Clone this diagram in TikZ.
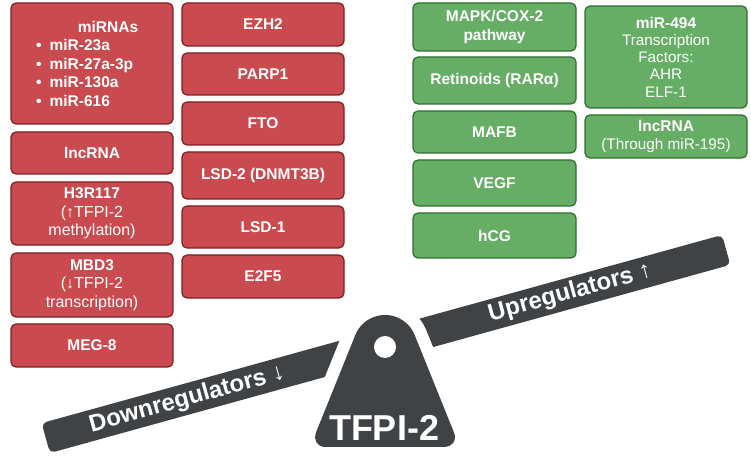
\documentclass[tikz,border=0pt]{standalone}
\usepackage{fontspec}
\setmainfont{Liberation Sans}
\definecolor{boxred}{HTML}{C94B4F}
\definecolor{redline}{HTML}{7E1D22}
\definecolor{boxgreen}{HTML}{66AE66}
\definecolor{greenline}{HTML}{2E6E30}
\definecolor{beamgray}{HTML}{404346}
\newcommand{\rg}[1]{{\fontsize{16}{19}\selectfont\mdseries #1}}
\newcommand{\rgs}[1]{{\fontsize{15.3}{17.2}\selectfont\mdseries #1}}
\tikzset{
  box/.style={rounded corners=5pt, line width=1.2pt, minimum width=162pt,
    inner sep=2pt, align=center, text=white,
    font=\fontsize{15.5}{18.5}\selectfont\bfseries},
  redbox/.style={box, fill=boxred, draw=redline},
  greenbox/.style={box, fill=boxgreen, draw=greenline},
  beam/.style={fill=beamgray, rounded corners=5pt, inner sep=0pt,
    minimum width=706pt, minimum height=31pt, rotate=15.46},
  beamtext/.style={text=white, rotate=15.46, inner sep=0pt,
    font=\fontsize{24}{28}\selectfont\bfseries},
  bigtext/.style={text=white, inner sep=0pt, font=\fontsize{36}{40}\selectfont\bfseries},
  intext/.style={text=white, inner sep=0pt, font=\fontsize{15.5}{18.7}\selectfont\bfseries}
}
\def\fulcrumpath{(315.7,28.75) -- (355.33,126.99) arc[start angle=158, end angle=22, radius=32]
  -- (454.27,28.75) arc[start angle=22, end angle=-90, radius=10]
  -- (325,15) arc[start angle=270, end angle=158, radius=10] -- cycle}
\begin{document}
\begin{tikzpicture}[x=1pt,y=1pt]
\useasboundingbox (0,0) rectangle (751,462);
% red column 1
\node[redbox, minimum height=121pt] (mirnas) at (92,398.5) {};
\node[intext] (mirhead) at (108,435) {miRNAs};
\node[intext, anchor=west, align=left] (mirlist) at (36,389)
  {•\hspace{8pt}miR-23a\\ •\hspace{8pt}miR-27a-3p\\ •\hspace{8pt}miR-130a\\ •\hspace{8pt}miR-616};
\node[redbox, minimum height=42pt] (lnc1) at (92,309) {lncRNA};
\node[redbox, minimum height=63pt] (h3r) at (92,248.5) {H3R117\\ \rg{(↑TFPI-2}\\ \rg{methylation)}};
\node[redbox, minimum height=64pt] (mbd3) at (92,177) {MBD3\\ \rg{(↓TFPI-2}\\ \rg{transcription)}};
\node[redbox, minimum height=43pt] (meg8) at (92,116.5) {MEG-8};
% red column 2
\node[redbox, minimum height=43pt] (ezh2) at (263,437.5) {EZH2};
\node[redbox, minimum height=42pt] (parp1) at (263,388) {PARP1};
\node[redbox, minimum height=43pt] (fto) at (263,338.5) {FTO};
\node[redbox, minimum height=47pt] (lsd2) at (263,286.5) {LSD-2 (DNMT3B)};
\node[redbox, minimum height=42pt] (lsd1) at (263,235) {LSD-1};
\node[redbox, minimum height=43pt] (e2f5) at (263,185.5) {E2F5};
% green column 1
\node[greenbox, minimum width=163pt, minimum height=48pt] (mapk) at (494.5,435) {MAPK/COX-2\\ pathway};
\node[greenbox, minimum width=163pt, minimum height=47pt] (retin) at (494.5,381.5) {Retinoids (RARα)};
\node[greenbox, minimum width=163pt, minimum height=42pt] (mafb) at (494.5,330) {MAFB};
\node[greenbox, minimum width=163pt, minimum height=46pt] (vegf) at (494.5,279) {VEGF};
\node[greenbox, minimum width=163pt, minimum height=45pt] (hcg) at (494.5,226.5) {hCG};
% green column 2
\node[greenbox, minimum height=102pt, font=\fontsize{15.5}{17.2}\selectfont\bfseries] (mir494) at (666,405)
  {miR-494\\ \rgs{Transcription}\\ \rgs{Factors:}\\ \rgs{AHR}\\ \rgs{ELF-1}};
\node[greenbox, minimum height=43pt] (lnc2) at (666,325.5) {lncRNA\\ \rgs{(Through miR-195)}};
% seesaw
\node[beam] (bar) at (386,118) {};
\node[beamtext] (down) at (187,62.5) {Downregulators ↓};
\node[beamtext] (up) at (570,169) {Upregulators ↑};
\draw[white, line width=25pt, line join=round] \fulcrumpath;
\fill[beamgray] \fulcrumpath;
\fill[white] (385,115) circle[radius=11];
\node[bigtext] (tfpi) at (384,34) {TFPI-2};
\end{tikzpicture}
\end{document}
